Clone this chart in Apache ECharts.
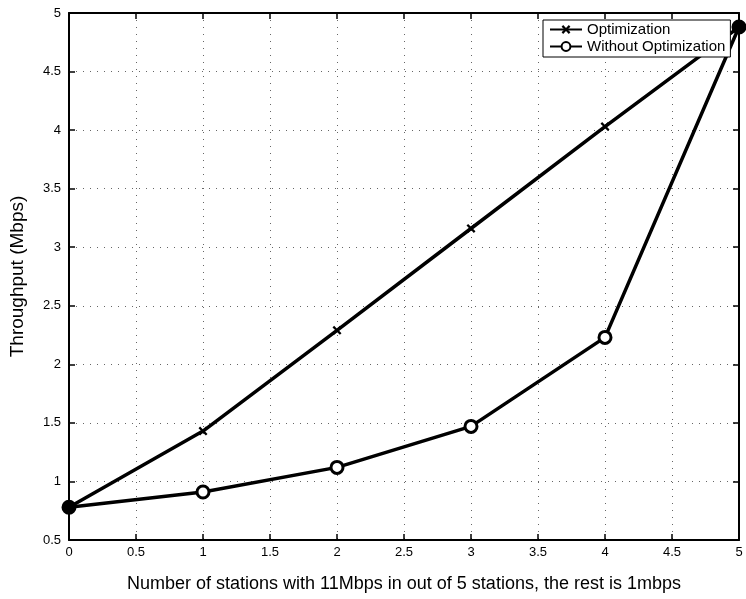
<!DOCTYPE html>
<html><head><meta charset="utf-8">
<script src="https://cdn.jsdelivr.net/npm/echarts@6/dist/echarts.min.js"></script>
<style>html,body{margin:0;padding:0;background:#fff}#c{width:746px;height:599px}</style>
</head><body><div id="c"></div>
<script>
const xValues = [0, 1, 2, 3, 4, 5];
const optimization = [0.78, 1.43, 2.29, 3.16, 4.03, 4.88];
const withoutOptimization = [0.78, 0.91, 1.12, 1.47, 2.23, 4.88];
const seriesNames = ['Optimization', 'Without Optimization'];
const xAxisTitle = 'Number of stations with 11Mbps in out of 5 stations, the rest is 1mbps';
const yAxisTitle = 'Throughput (Mbps)';

const FONT = '"Liberation Sans", Arial, Helvetica, sans-serif';
const crossPath = 'path://M0,1.8L1.8,0L5,3.2L8.2,0L10,1.8L6.8,5L10,8.2L8.2,10L5,6.8L1.8,10L0,8.2L3.2,5Z';

const optData = xValues.map((x, i) => [x, optimization[i]]);
const woData = xValues.map((x, i) => {
  const item = { value: [x, withoutOptimization[i]] };
  if (withoutOptimization[i] === optimization[i]) item.itemStyle = { color: '#000' };
  return item;
});

const axisCommon = {
  axisLine: { show: true, onZero: false, lineStyle: { color: '#000', width: 2 } },
  axisTick: { show: true, inside: true, length: 6, lineStyle: { color: '#000', width: 1.5 } },
  axisLabel: { color: '#000', fontFamily: FONT, fontSize: 13 },
};
const gridLine = { show: true, lineStyle: { type: [1, 6], color: '#666', width: 1 } };

const chart = echarts.init(document.getElementById('c'), null, { renderer: 'canvas' });
chart.setOption({
  animation: false,
  backgroundColor: '#fff',
  grid: { left: 69, right: 7, top: 13, bottom: 59, containLabel: false },
  legend: {
    orient: 'vertical', left: 543, top: 20,
    data: seriesNames,
    backgroundColor: '#fff', borderColor: '#000', borderWidth: 1,
    padding: [2, 5, 3, 6], itemGap: 2, itemWidth: 32, itemHeight: 11,
    textStyle: { fontFamily: FONT, fontSize: 15, color: '#000' }
  },
  xAxis: [
    Object.assign({}, axisCommon, {
      type: 'value', min: 0, max: 5, interval: 0.5, position: 'bottom',
      name: xAxisTitle, nameLocation: 'middle', nameGap: 35,
      nameTextStyle: { color: '#000', fontFamily: FONT, fontSize: 18 },
      axisLabel: { color: '#000', fontFamily: FONT, fontSize: 13, margin: 6 },
      splitLine: gridLine
    }),
    Object.assign({}, axisCommon, {
      type: 'value', min: 0, max: 5, interval: 0.5, position: 'top',
      axisLabel: { show: false }, splitLine: { show: false }
    })
  ],
  yAxis: [
    Object.assign({}, axisCommon, {
      type: 'value', min: 0.5, max: 5, interval: 0.5, position: 'left',
      name: yAxisTitle, nameLocation: 'middle', nameGap: 42, nameRotate: 90,
      nameTextStyle: { color: '#000', fontFamily: FONT, fontSize: 19 },
      axisLabel: { color: '#000', fontFamily: FONT, fontSize: 13, margin: 8 },
      splitLine: gridLine
    }),
    Object.assign({}, axisCommon, {
      type: 'value', min: 0.5, max: 5, interval: 0.5, position: 'right',
      axisLabel: { show: false }, splitLine: { show: false }
    })
  ],
  series: [
    {
      name: seriesNames[0], type: 'line', data: optData,
      symbol: crossPath, symbolSize: 9,
      lineStyle: { color: '#000', width: 3.5 },
      itemStyle: { color: '#000' }, z: 3
    },
    {
      name: seriesNames[1], type: 'line', data: woData,
      symbol: 'circle', symbolSize: 12,
      lineStyle: { color: '#000', width: 3.5 },
      itemStyle: { color: '#fff', borderColor: '#000', borderWidth: 3 }, z: 2
    }
  ]
});
</script></body></html>
